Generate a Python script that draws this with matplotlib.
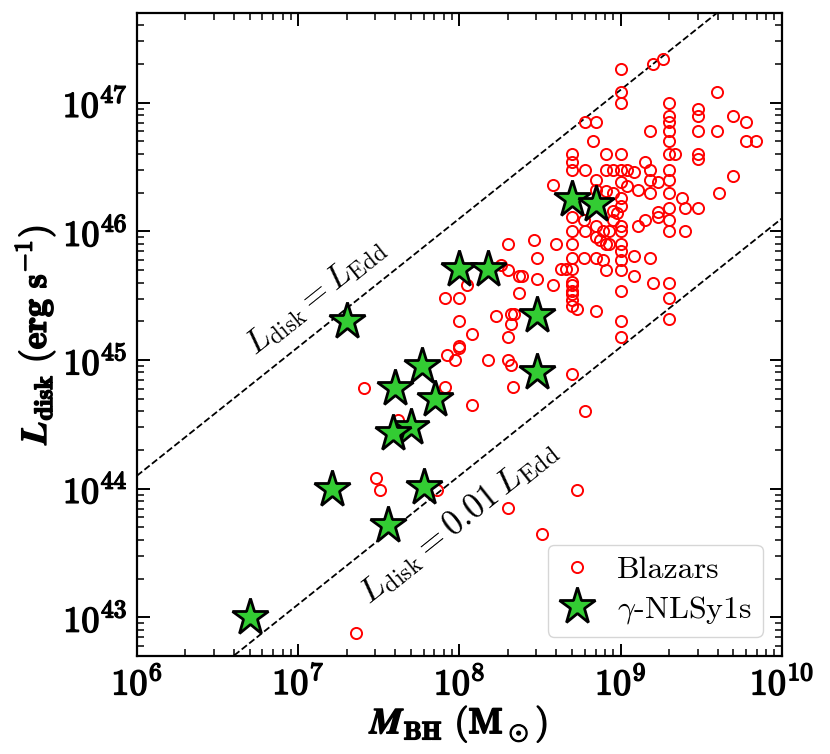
import numpy as np
import matplotlib
matplotlib.use('Agg')
import matplotlib.pyplot as plt
import matplotlib.patheffects as pe
from matplotlib.ticker import LogLocator, FuncFormatter, NullFormatter

plt.rcParams['mathtext.fontset'] = 'cm'
plt.rcParams['font.family'] = ['cmr10', 'DejaVu Serif']
plt.rcParams['axes.formatter.use_mathtext'] = True

# log10 M_BH (Msun) and log10 L_disk (erg/s)
blazar_logm = [
    9.00, 9.20, 9.26, 9.00, 9.00, 9.60, 9.30, 9.48, 9.48, 9.70, 9.78, 9.30, 9.30, 8.78, 8.85,
    9.18, 9.30, 9.48, 9.60, 9.78, 9.84, 8.83, 9.30, 8.70, 8.91, 9.00, 9.30, 9.34, 9.48, 9.48,
    8.70, 8.70, 8.78, 8.91, 8.95, 9.00, 9.04, 9.08, 9.15, 9.18, 9.30, 9.70, 8.58, 8.85, 9.00,
    9.04, 9.18, 9.23, 9.30, 9.11, 8.85, 8.91, 8.95, 9.18, 9.30, 9.61, 9.00, 9.38, 9.00, 8.95,
    8.98, 9.30, 9.40, 9.48, 9.23, 9.23, 9.30, 9.15, 9.11, 8.95, 9.00, 8.70, 8.77, 8.85, 8.70,
    8.78, 8.89, 8.93, 9.00, 9.30, 9.40, 8.85, 8.87, 8.91, 8.93, 8.30, 8.46, 8.60, 8.70, 9.00,
    9.00, 9.08, 9.18, 8.48, 8.70, 8.77, 8.85, 8.89, 9.00, 8.26, 8.30, 8.63, 8.66, 8.70, 8.91,
    9.00, 8.37, 8.39, 8.48, 9.08, 8.58, 9.20, 9.30, 8.05, 8.70, 8.70, 8.70, 8.70, 8.70, 8.70,
    8.73, 8.85, 9.00, 8.37, 7.91, 8.00, 9.30, 8.23, 8.32, 8.34, 8.32, 8.00, 9.00, 9.30, 8.08,
    8.30, 9.00, 8.00, 8.00, 7.92, 7.97, 8.18, 8.30, 8.32, 8.70, 8.33, 7.91, 7.41, 8.08, 8.78,
    7.62, 7.48, 7.51, 7.86, 8.73, 8.30, 8.51, 7.36,
]
blazar_logl = [
    47.26, 47.30, 47.34, 47.08, 47.00, 47.08, 47.00, 46.95, 46.90, 46.90, 46.85, 46.90, 46.85, 46.85, 46.85,
    46.78, 46.78, 46.78, 46.78, 46.70, 46.70, 46.70, 46.70, 46.60, 46.60, 46.60, 46.60, 46.60, 46.60, 46.56,
    46.54, 46.48, 46.48, 46.48, 46.48, 46.48, 46.48, 46.46, 46.54, 46.48, 46.48, 46.43, 46.36, 46.40, 46.38,
    46.35, 46.40, 46.38, 46.40, 46.32, 46.32, 46.31, 46.30, 46.30, 46.30, 46.30, 46.26, 46.26, 46.20, 46.16,
    46.14, 46.18, 46.18, 46.18, 46.15, 46.11, 46.09, 46.09, 46.04, 46.09, 46.04, 46.11, 46.09, 46.04, 46.00,
    46.00, 46.00, 46.00, 46.00, 46.00, 46.00, 45.96, 45.93, 45.90, 45.90, 45.90, 45.93, 45.90, 45.90, 45.90,
    45.85, 45.81, 45.79, 45.79, 45.79, 45.79, 45.79, 45.78, 45.78, 45.74, 45.70, 45.71, 45.71, 45.71, 45.70,
    45.70, 45.65, 45.65, 45.63, 45.65, 45.58, 45.60, 45.60, 45.58, 45.61, 45.58, 45.54, 45.51, 45.47, 45.42,
    45.40, 45.38, 45.54, 45.52, 45.48, 45.48, 45.48, 45.34, 45.36, 45.36, 45.28, 45.30, 45.30, 45.32, 45.20,
    45.18, 45.18, 45.11, 45.09, 45.04, 45.00, 45.00, 45.00, 44.96, 44.89, 44.79, 44.79, 44.78, 44.65, 44.60,
    44.53, 44.08, 43.99, 43.99, 43.99, 43.85, 43.65, 42.88,
]

nlsy1_logm = [7.30, 7.77, 7.60, 7.85, 7.70, 7.59, 7.21, 7.78, 7.56, 6.70,
              8.00, 8.18, 8.48, 8.48, 8.70, 8.85]
nlsy1_logl = [45.30, 44.95, 44.78, 44.70, 44.48, 44.43, 44.00, 44.01, 43.72, 43.00,
              45.71, 45.71, 45.35, 44.91, 46.25, 46.21]

fig = plt.figure(figsize=(8.3, 7.54), dpi=100)
ax = fig.add_axes([0.165, 0.130, 0.777, 0.853])

xlim = (1e6, 1e10)
ylim = (5e42, 5e47)
ax.set_xscale('log')
ax.set_yscale('log')
ax.set_xlim(*xlim)
ax.set_ylim(*ylim)

# Eddington lines
m_line = np.array(xlim)
ax.plot(m_line, 1.26e38 * m_line, ls='--', color='k', lw=1.3, zorder=1)
ax.plot(m_line, 1.26e36 * m_line, ls='--', color='k', lw=1.3, zorder=1)

ax.plot(10 ** np.array(blazar_logm), 10 ** np.array(blazar_logl), ls='none', marker='o',
        mfc='none', mec='red', ms=8, mew=1.4, label='Blazars', zorder=2)
ax.plot(10 ** np.array(nlsy1_logm), 10 ** np.array(nlsy1_logl), ls='none', marker='*',
        mfc='#33cc33', mec='k', ms=28, mew=2, label=r'$\gamma$-NLSy1s', zorder=3)

# angle of the lines on screen
p1 = ax.transData.transform((1e6, 1e44))
p2 = ax.transData.transform((1e10, 1e48))
ang = np.degrees(np.arctan2(p2[1] - p1[1], p2[0] - p1[0]))

ax.text(10 ** 7.11, 10 ** 45.49, r'$L_{\rm disk} = L_{\rm Edd}$', rotation=ang,
        rotation_mode='anchor', ha='center', va='center', fontsize=24)
ax.text(10 ** 7.99, 10 ** 43.74, r'$L_{\rm disk} = 0.01\, L_{\rm Edd}$', rotation=ang,
        rotation_mode='anchor', ha='center', va='center', fontsize=25)

fmt = FuncFormatter(lambda v, p: r'$\mathbf{10^{%d}}$' % round(np.log10(v)))
ax.xaxis.set_major_locator(LogLocator(base=10, numticks=10))
ax.yaxis.set_major_locator(LogLocator(base=10, numticks=10))
ax.xaxis.set_minor_locator(LogLocator(base=10, subs=np.arange(2, 10), numticks=20))
ax.yaxis.set_minor_locator(LogLocator(base=10, subs=np.arange(2, 10), numticks=20))
ax.xaxis.set_major_formatter(fmt)
ax.yaxis.set_major_formatter(fmt)
ax.xaxis.set_minor_formatter(NullFormatter())
ax.yaxis.set_minor_formatter(NullFormatter())

ax.tick_params(which='both', direction='in', top=True, right=True)
ax.tick_params(which='major', length=9, width=1.4, labelsize=26, pad=7)
ax.tick_params(which='minor', length=5, width=1.1)
for s in ax.spines.values():
    s.set_linewidth(1.6)

bold = [pe.withStroke(linewidth=1.1, foreground='black')]
ax.set_xlabel(r'$\mathbfit{M}_{\mathbf{BH}}\ \mathbf{(M_\odot)}$', fontsize=26, labelpad=2,
              path_effects=bold)
ax.set_ylabel(r'$\mathbfit{L}_{\mathbf{disk}}\ \mathbf{(erg\ s^{-1})}$', fontsize=26, labelpad=4,
              path_effects=bold)

leg = ax.legend(loc='lower right', fontsize=23, frameon=True, fancybox=True,
                edgecolor='0.8', borderpad=0.35, handlelength=1.1, handletextpad=0.7,
                labelspacing=0.3, borderaxespad=0.6)

fig.canvas.draw()
for lbl in ax.get_xticklabels() + ax.get_yticklabels():
    lbl.set_path_effects(bold)

fig.savefig('out.png', dpi=100)
